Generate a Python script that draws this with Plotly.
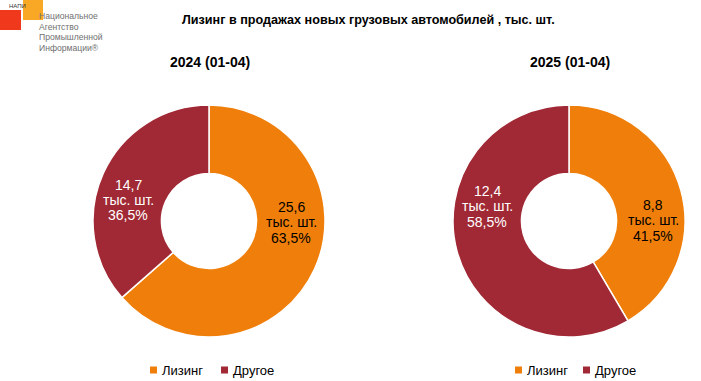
import plotly.graph_objects as go

labels = ["Лизинг", "Другое"]
values_2024 = [25.6, 14.7]
values_2025 = [8.8, 12.4]
pct_2024 = ["63,5%", "36,5%"]
pct_2025 = ["41,5%", "58,5%"]
titles = ["2024 (01-04)", "2025 (01-04)"]
main_title = "Лизинг в продажах новых грузовых автомобилей , тыс. шт."
unit = "тыс. шт."
logo_lines = ["Национальное", "Агентство", "Промышленной", "Информации®"]

colors = ["#EF7F0A", "#A12935"]
text_colors = ["#000000", "#FFFFFF"]

W, H = 701, 381
FONT = "Liberation Sans, Arial"

def fmt(v):
    return f"{v:.1f}".replace(".", ",")

def dom(cx, cy, r):
    return dict(x=[(cx - r) / W, (cx + r) / W], y=[1 - (cy + r) / H, 1 - (cy - r) / H])

fig = go.Figure()
fig.add_trace(go.Pie(
    labels=labels, values=values_2024, textinfo="none",
    hole=0.41, sort=False, direction="clockwise", rotation=0,
    marker=dict(colors=colors, line=dict(color="white", width=1.5)),
    domain=dom(209, 221, 116), showlegend=False,
))
fig.add_trace(go.Pie(
    labels=labels, values=values_2025, textinfo="none",
    hole=0.41, sort=False, direction="clockwise", rotation=0,
    marker=dict(colors=colors, line=dict(color="white", width=1.5)),
    domain=dom(569, 221, 116), showlegend=False,
))

fig.update_layout(
    width=W, height=H,
    margin=dict(l=0, r=0, t=0, b=0, pad=0, autoexpand=False),
    paper_bgcolor="white", plot_bgcolor="white",
    font=dict(family=FONT, color="#000"),
    showlegend=False,
)

def ann(text, x, y, size, color="#000", xanchor="center", family=FONT):
    fig.add_annotation(text=text, x=x / W, y=1 - y / H, xref="paper", yref="paper",
                       showarrow=False, xanchor=xanchor, yanchor="middle",
                       font=dict(size=size, color=color, family=family))

def rect(x0, y0, x1, y1, color):
    fig.add_shape(type="rect", xref="paper", yref="paper",
                  x0=x0 / W, x1=x1 / W, y0=1 - y1 / H, y1=1 - y0 / H,
                  fillcolor=color, line=dict(width=0))

ann(f"<b>{main_title}</b>", 368, 20, 12.6)
ann(f"<b>{titles[0]}</b>", 210, 62, 14)
ann(f"<b>{titles[1]}</b>", 570, 62, 14)

# slice labels (value / unit / share), one annotation per line
label_pos = [
    [(291, 222), (128, 200)],
    [(653, 220), (487, 206)],
]
vals = [values_2024, values_2025]
pcts = [pct_2024, pct_2025]
for k in range(2):
    for i in range(2):
        cx, cy = label_pos[k][i]
        lines = [fmt(vals[k][i]), unit, pcts[k][i]]
        for j, t in enumerate(lines):
            ann(t, cx, cy + (j - 1) * 15.5, 14, text_colors[i])

# legends under each donut
legend_x = [[150, 221], [515, 583]]
for k in range(2):
    for i, lab in enumerate(labels):
        lx = legend_x[k][i]
        rect(lx, 366.5, lx + 7, 373.5, colors[i])
        ann(lab, lx + 10, 370, 13, "#000", xanchor="left")

# logo
rect(0, 10, 21, 30, "#F0391C")
rect(23, 0, 43, 20, "#F9A825")
ann("НАПИ", 7, 6, 6, "#333", xanchor="left")
for j, t in enumerate(logo_lines):
    ann(t, 37, 16 + j * 10.6, 8.6, "#707070", xanchor="left")

fig.write_html("out.html", config={"displayModeBar": False},
               post_script="document.body.style.margin='0';document.body.style.overflow='hidden';")
